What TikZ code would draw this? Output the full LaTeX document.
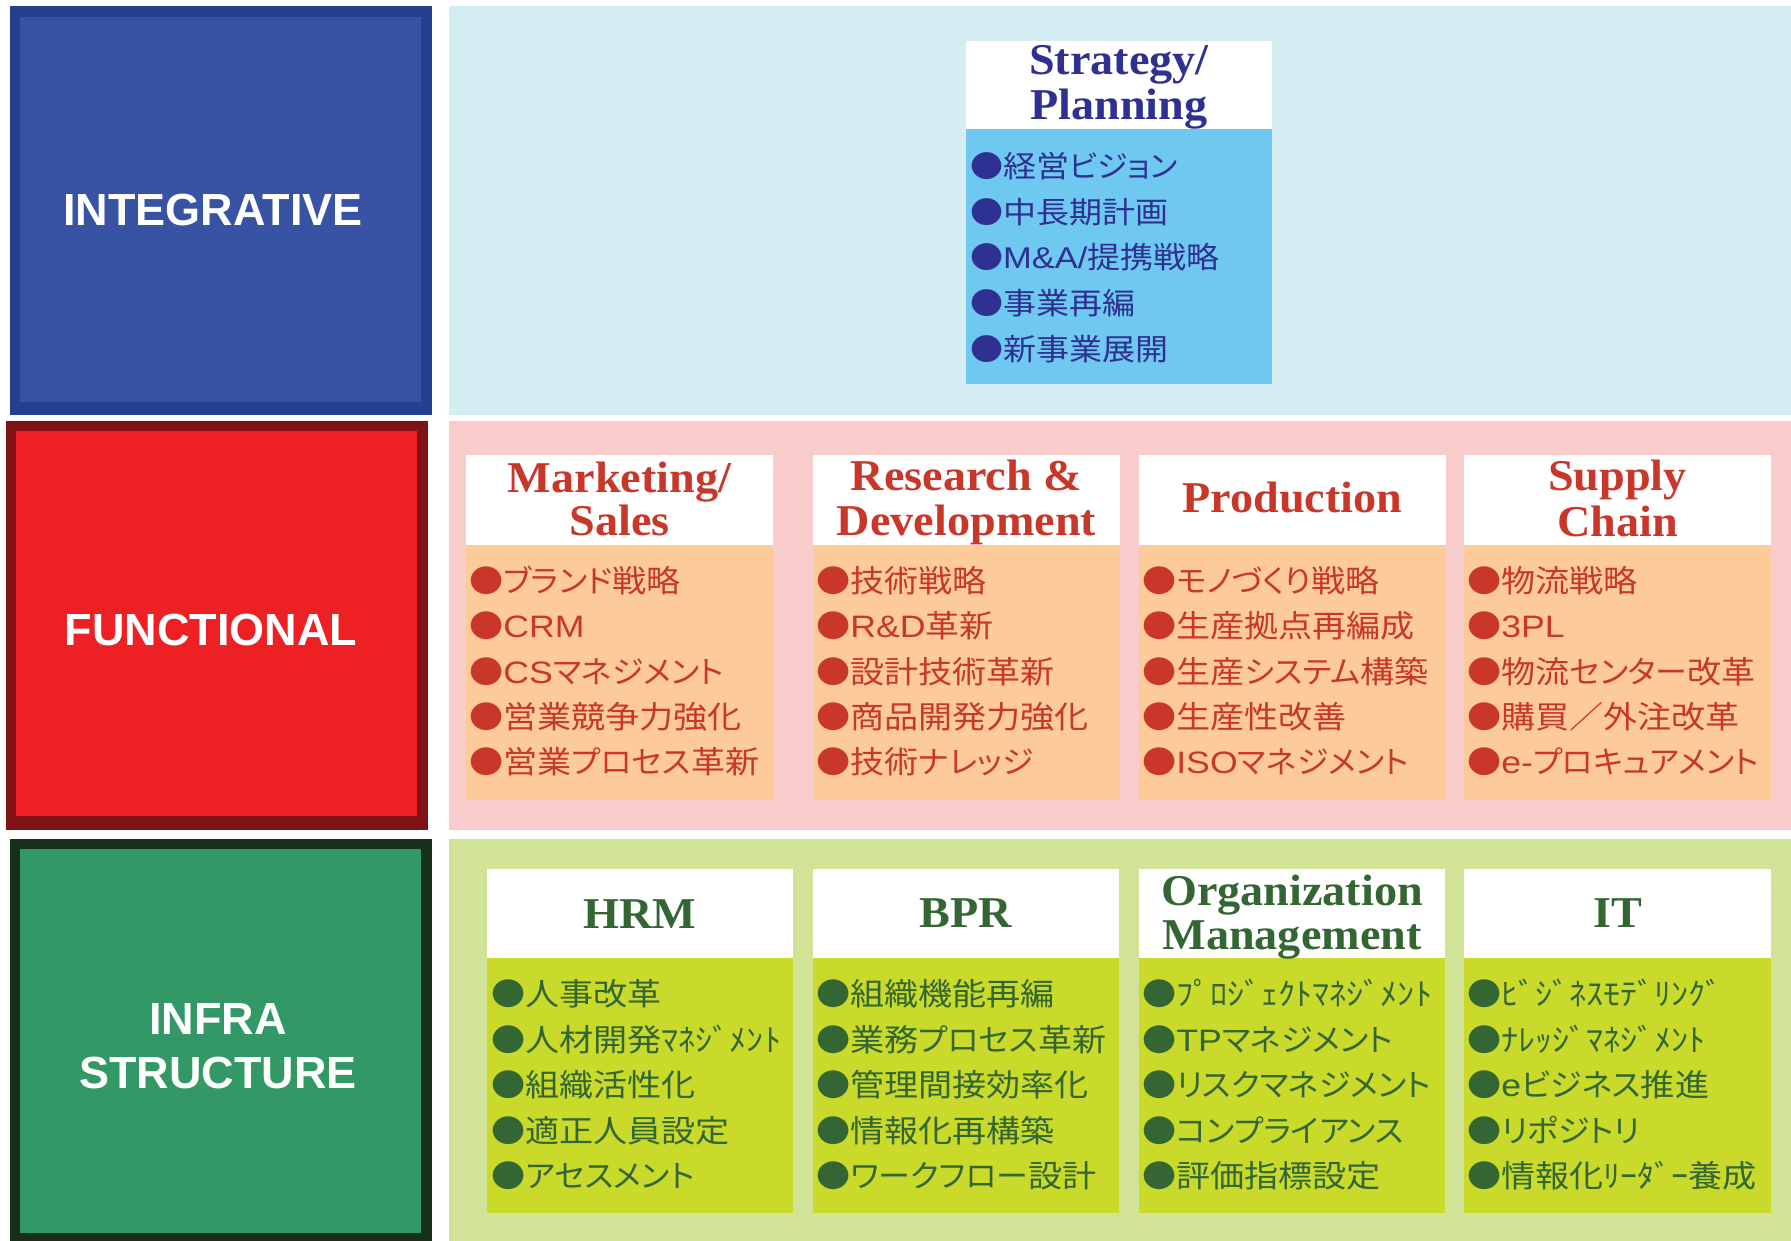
\documentclass[tikz,border=0pt]{standalone}
\usepackage{fontspec}
\newfontfamily\jpfont{Noto Sans CJK JP}[FakeStretch=1.1]
\newfontfamily\bulfont{Noto Sans CJK JP}[FakeStretch=1.1]
\newfontfamily\kanafont{Noto Sans CJK JP}[FakeStretch=1.03,RawFeature=+palt]
\newfontfamily\serfont{Liberation Serif}[FakeStretch=1.05]
\newfontfamily\labfont{Liberation Sans}
\newfontfamily\latfont{Liberation Sans}[FakeStretch=1.15]
\newcommand\La[1]{{\latfont #1}}
\newcommand\K[1]{{\kanafont #1}}
\newcommand\Bu{{\bulfont ●}}
\definecolor{navyT}{HTML}{2E3192}
\definecolor{skyBox}{HTML}{6EC8F0}
\definecolor{skyBand}{HTML}{D3EDF3}
\definecolor{blueBorder}{HTML}{25408F}
\definecolor{blueInner}{HTML}{3853A4}
\definecolor{redBorder}{HTML}{7F1315}
\definecolor{redInner}{HTML}{ED2024}
\definecolor{pinkBand}{HTML}{F9CCCC}
\definecolor{peachBox}{HTML}{FDCB9A}
\definecolor{redT}{HTML}{C9372B}
\definecolor{greenBorder}{HTML}{183019}
\definecolor{greenInner}{HTML}{329966}
\definecolor{greenBand}{HTML}{D0E397}
\definecolor{ygBox}{HTML}{C9DA2A}
\definecolor{greenT}{HTML}{336633}
\begin{document}
\begin{tikzpicture}[x=1pt,y=-1pt,
  lab/.style={inner sep=0pt,text=white,align=center,font=\labfont\bfseries\fontsize{45}{54}\selectfont},
  ttl/.style={inner sep=0pt,anchor=base,font=\serfont\bfseries\fontsize{44}{44}\selectfont},
  itm/.style={inner sep=0pt,anchor=west,text height=27pt,text depth=4pt,font=\jpfont\fontsize{31}{31}\selectfont},
  itms/.style={inner sep=0pt,anchor=west,text height=26.4pt,text depth=3.6pt,font=\jpfont\fontsize{30}{30}\selectfont}]
\useasboundingbox (0,0) rectangle (1791,1241);
\fill[white] (0,0) rectangle (1791,1241);
% bands
\fill[skyBand] (449,6) rectangle (1791,415);
\fill[pinkBand] (449,421) rectangle (1791,830);
\fill[greenBand] (449,839) rectangle (1791,1241);
% left category boxes
\fill[blueBorder] (10,6) rectangle (432,415);
\fill[blueInner] (20,17) rectangle (421,402);
\fill[redBorder] (6,421) rectangle (428,830);
\fill[redInner] (16,431) rectangle (417,816);
\fill[greenBorder] (10,839) rectangle (432,1241);
\fill[greenInner] (20,849) rectangle (421,1233);
\node[lab] (integ) at (213,210) {INTEGRATIVE};
\node[lab] (func) at (211,630) {FUNCTIONAL};
\node[lab] (infra) at (218,1046) {INFRA\\STRUCTURE};
% Strategy box
\fill[white] (966,41) rectangle (1272,129);
\fill[skyBox] (966,129) rectangle (1272,384);
\node[ttl,text=navyT] (st1) at (1119,75) {Strategy/};
\node[ttl,text=navyT] (st2) at (1119,120) {Planning};
\foreach \t [count=\i] in {経営\K{ビジョン},中長期計画,\La{M\&A/}提携戦略,事業再編,新事業展開}
  \node[itms,text=navyT] (sp\i) at (970,{166+(\i-1)*45.7}) {\Bu\t};
% Functional boxes
\foreach \x in {466,813,1139,1464}{
  \fill[white] (\x,455) rectangle ({\x+307},545);
  \fill[peachBox] (\x,545) rectangle ({\x+307},800);
}
\node[ttl,text=redT] (mk1) at (619.5,492) {Marketing/};
\node[ttl,text=redT] (mk2) at (619.5,535) {Sales};
\node[ttl,text=redT] (rd1) at (966.5,490) {Research \&};
\node[ttl,text=redT] (rd2) at (966.5,535) {Development};
\node[ttl,text=redT] (pr1) at (1292.5,512) {Production};
\node[ttl,text=redT] (sc1) at (1617.5,490) {Supply};
\node[ttl,text=redT] (sc2) at (1617.5,536) {Chain};
\foreach \t [count=\i] in {\K{ブランド}戦略,\La{CRM},\La{CS}\K{マネジメント},営業競争力強化,営業\K{プロセス}革新}
  \node[itm,text=redT] (mki\i) at (469,{581+(\i-1)*45.25}) {\Bu\t};
\foreach \t [count=\i] in {技術戦略,\La{R\&D}革新,設計技術革新,商品開発力強化,技術\K{ナレッジ}}
  \node[itm,text=redT] (rdi\i) at (816,{581+(\i-1)*45.25}) {\Bu\t};
\foreach \t [count=\i] in {\K{モノづくり}戦略,生産拠点再編成,生産\K{システム}構築,生産性改善,\La{ISO}\K{マネジメント}}
  \node[itm,text=redT] (pri\i) at (1142,{581+(\i-1)*45.25}) {\Bu\t};
\foreach \t [count=\i] in {物流戦略,\La{3PL},物流\K{センター}改革,購買／外注改革,\La{e-}\K{プロキュアメント}}
  \node[itm,text=redT] (sci\i) at (1467,{581+(\i-1)*45.25}) {\Bu\t};
% Infrastructure boxes
\foreach \x/\w in {487/306,813/306,1139/306,1464/307}{
  \fill[white] (\x,869) rectangle ({\x+\w},958);
  \fill[ygBox] (\x,958) rectangle ({\x+\w},1213);
}
\node[ttl,text=greenT] (hr1) at (640,928) {HRM};
\node[ttl,text=greenT] (bp1) at (966,927) {BPR};
\node[ttl,text=greenT] (om1) at (1292,905) {Organization};
\node[ttl,text=greenT] (om2) at (1292,949) {Management};
\node[ttl,text=greenT] (it1) at (1617.5,927) {IT};
\foreach \t [count=\i] in {人事改革,人材開発ﾏﾈｼﾞﾒﾝﾄ,組織活性化,適正人員設定,\K{アセスメント}}
  \node[itm,text=greenT] (hri\i) at (491,{994+(\i-1)*45.5}) {\Bu\t};
\foreach \t [count=\i] in {組織機能再編,業務\K{プロセス}革新,管理間接効率化,情報化再構築,\K{ワークフロー}設計}
  \node[itm,text=greenT] (bpi\i) at (816,{994+(\i-1)*45.5}) {\Bu\t};
\foreach \t [count=\i] in {ﾌﾟﾛｼﾞｪｸﾄﾏﾈｼﾞﾒﾝﾄ,\La{TP}\K{マネジメント},\K{リスクマネジメント},\K{コンプライアンス},評価指標設定}
  \node[itm,text=greenT] (omi\i) at (1142,{994+(\i-1)*45.5}) {\Bu\t};
\foreach \t [count=\i] in {ﾋﾞｼﾞﾈｽﾓﾃﾞﾘﾝｸﾞ,ﾅﾚｯｼﾞﾏﾈｼﾞﾒﾝﾄ,\La{e}\K{ビジネス}推進,\K{リポジトリ},情報化ﾘｰﾀﾞｰ養成}
  \node[itm,text=greenT] (iti\i) at (1467,{994+(\i-1)*45.5}) {\Bu\t};
\end{tikzpicture}
\end{document}
